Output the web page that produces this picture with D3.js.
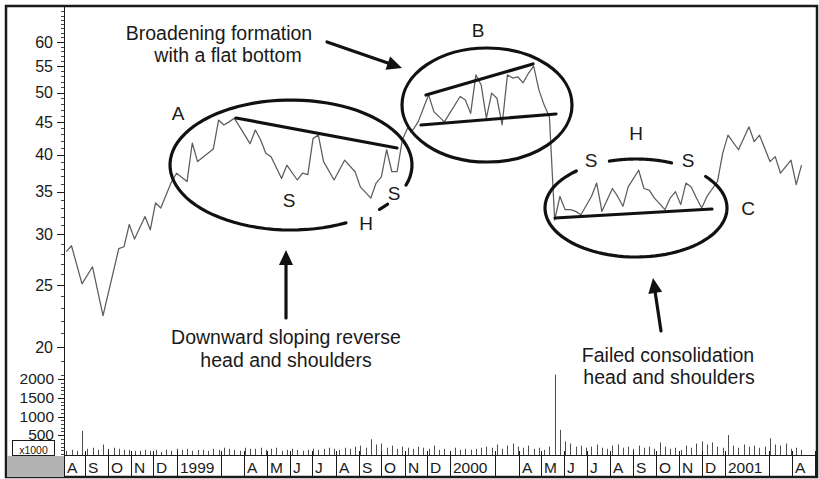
<!DOCTYPE html>
<html><head><meta charset="utf-8">
<script src="https://cdn.jsdelivr.net/npm/d3@7"></script>
<style>
html,body{margin:0;padding:0;background:#fff;}
svg{display:block;font-family:"Liberation Sans",Arial,sans-serif;}
</style></head>
<body><svg id="c" width="819" height="479"></svg>
<script>
// ---------- DATA ----------
const startWeek = "1998-08-03";          // date of week 0
const weeks  = [0,1,3,5,7,10,11,12,13,15,16,17,18,20,21,23,24,25,28,29,30,31,32,35,36,37,38,39,41,42,44,45,46,47,48,49,51,53,55,56,58,59,60,61,62,63,64,65,66,67,69,70,72,73,75,76,77,78,79,80,81,82,83,84,85,86,87,88,89,90,91,92,93,94,95,96,97,98,100,101,102,104,105,106,107,109,110,111,112,114,115,116,117,118,119,120,121,122,124,125,126,128,130,131,132,134,135,136,138,139,140];
const closes = [28.2,28.8,25.1,26.7,22.4,28.5,28.7,31.1,29.5,32.0,30.5,33.6,33.0,36.2,37.4,36.3,41.7,39.0,40.8,45.3,44.5,45.0,45.6,41.6,43.7,42.2,40.2,39.7,36.7,38.5,36.5,37.4,37.2,42.4,42.9,39.0,36.5,39.2,37.6,35.6,34.2,36.1,36.9,40.7,37.6,37.6,42.2,44.0,43.7,45.0,49.6,46.7,45.0,46.4,49.3,48.7,46.4,53.3,51.4,45.6,49.9,49.0,44.5,53.3,52.7,52.9,51.8,53.6,55.0,50.5,47.8,45.8,31.6,34.4,32.8,32.8,32.6,32.2,34.4,36.1,32.6,35.4,34.4,33.2,35.6,37.8,35.4,35.2,34.2,32.8,34.2,35.0,33.4,36.1,35.6,34.2,33.0,34.4,36.3,40.2,42.9,40.7,44.2,41.9,42.9,39.0,39.7,37.4,39.2,35.9,38.5];
// weekly volume (x1000), one per week from week 0
const volumes = [84,112,84,616,140,168,112,252,140,168,140,112,112,84,84,112,84,112,56,112,84,140,112,140,84,112,112,84,140,112,168,140,112,84,168,140,
 140,168,112,140,168,84,112,140,112,84,112,140,112,140,168,140,112,168,140,196,224,168,392,252,280,168,224,140,196,168,140,196,168,
 140,224,112,140,84,168,112,140,112,140,168,196,168,252,140,224,280,196,168,224,140,168,112,196,2120,644,336,280,196,224,168,196,252,168,140,224,252,
 168,196,140,224,168,196,140,308,196,140,168,112,224,168,280,336,252,308,196,168,504,224,168,252,196,224,168,196,420,252,224,280,140,168,112];
const priceTicks = [20,25,30,35,40,45,50,55,60];
const volumeTicks = [500,1000,1500,2000];
const monthCells = [
 {d:"1998-08-01",t:"A"},{d:"1998-09-01",t:"S"},{d:"1998-10-01",t:"O"},{d:"1998-11-01",t:"N"},{d:"1998-12-01",t:"D"},
 {d:"1999-01-01",t:"1999"},{d:"1999-03-01",t:""},{d:"1999-04-01",t:"A"},{d:"1999-05-01",t:"M"},{d:"1999-06-01",t:"J"},
 {d:"1999-07-01",t:"J"},{d:"1999-08-01",t:"A"},{d:"1999-09-01",t:"S"},{d:"1999-10-01",t:"O"},{d:"1999-11-01",t:"N"},
 {d:"1999-12-01",t:"D"},{d:"2000-01-01",t:"2000"},{d:"2000-03-01",t:""},{d:"2000-04-01",t:"A"},{d:"2000-05-01",t:"M"},
 {d:"2000-06-01",t:"J"},{d:"2000-07-01",t:"J"},{d:"2000-08-01",t:"A"},{d:"2000-09-01",t:"S"},{d:"2000-10-01",t:"O"},
 {d:"2000-11-01",t:"N"},{d:"2000-12-01",t:"D"},{d:"2001-01-01",t:"2001"},{d:"2001-03-01",t:""},{d:"2001-04-01",t:"A"},{d:"2001-05-01",t:""}];

// ---------- SCALES ----------
const parse = d3.utcParse("%Y-%m-%d");
const t0 = parse(startWeek);
const weekDate = i => d3.utcDay.offset(t0, 7*i);
const x = d3.scaleUtc().domain([parse("1998-07-31"), parse("2001-04-27")]).range([64, 815]);
const y = d3.scaleLog().domain([20, 60]).range([347, 42]);
const yv = d3.scaleLinear().domain([0, 2000]).range([454, 379]);

const svg = d3.select("#c");
const ink = "#1a1a1a";

// frame
svg.append("rect").attr("x",6).attr("y",6).attr("width",811).attr("height",471)
  .attr("fill","none").attr("stroke",ink).attr("stroke-width",2.5);
// bottom-left gray box
svg.append("rect").attr("x",7).attr("y",456).attr("width",57).attr("height",21).attr("fill","#b3b3b3");

// clip
svg.append("clipPath").attr("id","plot").append("rect").attr("x",65).attr("y",7).attr("width",751).attr("height",448);
const plot = svg.append("g").attr("clip-path","url(#plot)");

// volume bars
plot.append("g").selectAll("line").data(volumes).join("line")
  .attr("x1",(v,i)=>Math.round(x(weekDate(i)))+0.5).attr("x2",(v,i)=>Math.round(x(weekDate(i)))+0.5)
  .attr("y1",455).attr("y2",v=>yv(v)).attr("stroke","#4d4d4d").attr("stroke-width",1);

// price line
const pts = weeks.map((w,k)=>({d:weekDate(w), v:closes[k]}));
plot.append("path").datum(pts).attr("fill","none").attr("stroke","#5c5c5c").attr("stroke-width",1.25)
  .attr("stroke-linejoin","round")
  .attr("d", d3.line().x(p=>x(p.d)).y(p=>y(p.v)));

// y axis
const axisG = svg.append("g");
axisG.append("line").attr("x1",64.5).attr("x2",64.5).attr("y1",7).attr("y2",456).attr("stroke",ink).attr("stroke-width",1);
const minorP = d3.range(19, 68);
axisG.selectAll(".mp").data(minorP).join("line").attr("x1",61).attr("x2",64).attr("y1",d=>Math.round(y(d))+0.5).attr("y2",d=>Math.round(y(d))+0.5).attr("stroke","#444");
axisG.selectAll(".Mp").data(priceTicks).join("line").attr("x1",57).attr("x2",64).attr("y1",d=>Math.round(y(d))+0.5).attr("y2",d=>Math.round(y(d))+0.5).attr("stroke",ink);
axisG.selectAll(".lp").data(priceTicks).join("text").attr("x",53).attr("y",d=>y(d)).attr("dy","0.36em")
  .attr("text-anchor","end").attr("font-size",16).attr("fill",ink).text(d=>d);
const minorV = d3.range(0, 2200, 100);
axisG.selectAll(".mv").data(minorV).join("line").attr("x1",61).attr("x2",64).attr("y1",d=>Math.round(yv(d))+0.5).attr("y2",d=>Math.round(yv(d))+0.5).attr("stroke","#444");
axisG.selectAll(".Mv").data(volumeTicks).join("line").attr("x1",58).attr("x2",64).attr("y1",d=>Math.round(yv(d))+0.5).attr("y2",d=>Math.round(yv(d))+0.5).attr("stroke",ink);
axisG.selectAll(".lv").data(volumeTicks).join("text").attr("x",54).attr("y",d=>yv(d)).attr("dy","0.33em")
  .attr("text-anchor","end").attr("font-size",15.5).attr("fill",ink).text(d=>d);
// x1000 box
axisG.append("rect").attr("x",12.5).attr("y",440.5).attr("width",42).attr("height",15).attr("fill","#fff").attr("stroke",ink);
axisG.append("text").attr("x",33.5).attr("y",453.5).attr("text-anchor","middle").attr("font-size",10.5).attr("fill",ink).text("x1000");

// x axis cells
const xa = svg.append("g");
xa.append("line").attr("x1",64).attr("x2",817).attr("y1",455.5).attr("y2",455.5).attr("stroke",ink);
const cells = monthCells.map(c=>({x:Math.max(64, Math.round(x(parse(c.d)))-3), t:c.t}));
xa.selectAll(".dv").data(cells).join("line").attr("x1",c=>c.x+0.5).attr("x2",c=>c.x+0.5)
  .attr("y1",451).attr("y2",477).attr("stroke",ink);
xa.selectAll(".ml").data(cells).join("text").attr("x",c=>c.x+3).attr("y",473)
  .attr("font-size",15.5).attr("fill",ink).text(c=>c.t);

// ---------- ANNOTATIONS ----------
const ann = svg.append("g").attr("fill","none").attr("stroke","#111").attr("stroke-width",3.2).attr("stroke-linecap","round");
function arcPath(cx,cy,rx,ry,a0,a1){ // degrees
  const pts=d3.range(a0,a1+0.01,(a1-a0)/80).map(a=>[cx+rx*Math.cos(a*Math.PI/180), cy+ry*Math.sin(a*Math.PI/180)]);
  return d3.line()(pts);
}
// Ellipse A
ann.append("path").attr("d",arcPath(291,165,121,65,63,378));
ann.append("path").attr("d",arcPath(291,165,121,65,37,43));
// Ellipse B
ann.append("ellipse").attr("cx",487).attr("cy",105).attr("rx",85).attr("ry",57);
// Ellipse C
ann.append("path").attr("d",arcPath(636,208,91,49,-40,229));
ann.append("path").attr("d",arcPath(636,208,91,49,253,293));
// trend lines
ann.append("line").attr("x1",236).attr("y1",118).attr("x2",397).attr("y2",148);
ann.append("line").attr("x1",426).attr("y1",95).attr("x2",533).attr("y2",64);
ann.append("line").attr("x1",421).attr("y1",125).attr("x2",556).attr("y2",114);
ann.append("line").attr("x1",555).attr("y1",218).attr("x2",712).attr("y2",209);

// arrows
function arrow(x1,y1,x2,y2){
  const a=Math.atan2(y2-y1,x2-x1), L=15, W=7;
  const bx=x2-L*Math.cos(a), by=y2-L*Math.sin(a);
  ann.append("line").attr("x1",x1).attr("y1",y1).attr("x2",bx).attr("y2",by);
  ann.append("path").attr("stroke","none").attr("fill","#111")
    .attr("d",`M${x2},${y2}L${bx+W*Math.sin(a)},${by-W*Math.cos(a)}L${bx-W*Math.sin(a)},${by+W*Math.cos(a)}Z`);
}
arrow(327,42,402,68);
arrow(286,318,286,250);
arrow(661,331,653,278);

// texts
const tx = svg.append("g").attr("fill","#1a1a1a");
function txt(xx,yy,s,fs=19.5){tx.append("text").attr("x",xx).attr("y",yy).attr("text-anchor","middle").attr("font-size",fs).text(s);}
txt(219,40,"Broadening formation");
txt(228,62,"with a flat bottom");
txt(286,344,"Downward sloping reverse");
txt(286,367,"head and shoulders");
txt(668,362,"Failed consolidation");
txt(669,384,"head and shoulders");
txt(178,120,"A",19);
txt(478,37,"B",19);
txt(748,215,"C",19);
txt(289,207,"S",19);
txt(366,230,"H",19);
txt(394,200,"S",19);
txt(591,167,"S",19);
txt(636,140,"H",19);
txt(688,167,"S",19);
</script></body></html>
